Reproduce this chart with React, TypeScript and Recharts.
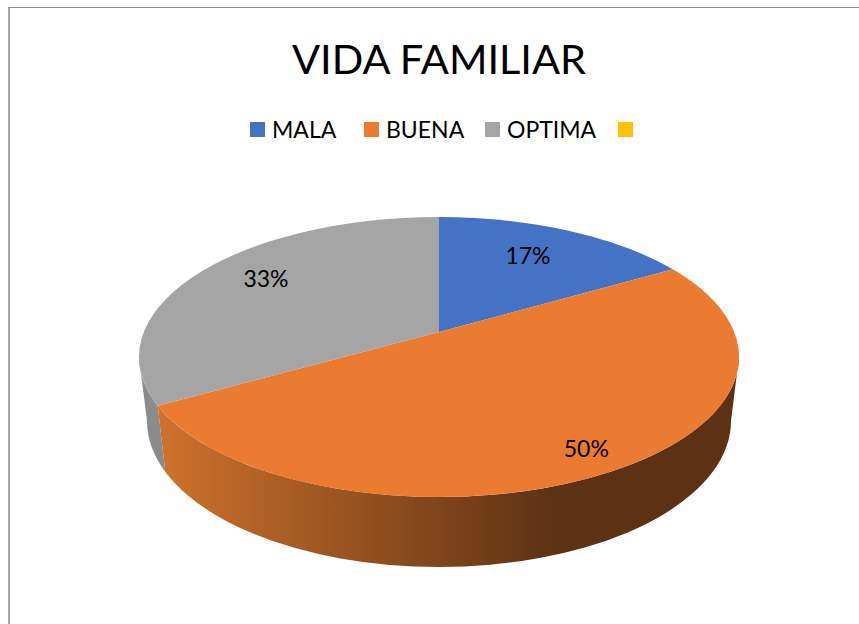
import { PieChart, Pie, Legend } from "recharts"

const categories = ["MALA", "BUENA", "OPTIMA", ""]
const values = [1, 3, 2, 0]
const colors = ["#4472c4", "#eb7b30", "#a5a5a5", "#ffc000"]

const data = categories.map((name, i) => ({ name, value: values[i], fill: colors[i] }))

const FONT = "Lato, sans-serif"
const legendLefts = [250, 364, 485, 618]
const labelReachX = [0.7, 0.84, 0.74, 0]
const labelReachY = [0.76, 0.84, 0.855, 0]

// the pie is tilted: the circle becomes an ellipse whose middle sits below the apex
const RY = 140 / 300
const DROP = 25 / 300
const LOWER_RX = 292 / 300
const LOWER_RY = 146 / 300
const LOWER_DROP = 89 / 300
const SQUEEZE = 0.83

// clockwise degrees from 12 o'clock, recharts angle in, ellipse angle out (radians)
const toEllipseAngle = (angle: number) => {
  const half = ((90 - angle) * Math.PI) / 360
  return 2 * Math.atan2(SQUEEZE * Math.sin(half), Math.cos(half))
}

const topPoint = (cx: number, cy: number, r: number, t: number) => ({
  x: cx + r * Math.sin(t),
  y: cy + r * DROP - r * RY * Math.cos(t),
})

const lowerPoint = (cx: number, cy: number, r: number, t: number) => ({
  x: cx + r * LOWER_RX * Math.sin(t),
  y: cy + r * LOWER_DROP - r * LOWER_RY * Math.cos(t),
})

function TiltedSlice(props: any) {
  const { cx, cy, outerRadius: r, startAngle, endAngle, fill, index } = props
  if (startAngle === endAngle) return null

  const t1 = toEllipseAngle(startAngle)
  const t2 = toEllipseAngle(endAngle)
  const a = topPoint(cx, cy, r, t1)
  const b = topPoint(cx, cy, r, t2)
  const large = t2 - t1 > Math.PI ? 1 : 0
  const face = `M${cx},${cy} L${a.x},${a.y} A${r},${r * RY} 0 ${large} 1 ${b.x},${b.y} Z`

  const wallFrom = Math.max(t1, Math.PI / 2)
  const wallTo = Math.min(t2, (3 * Math.PI) / 2)
  let wall = ""
  if (wallTo > wallFrom) {
    const p = topPoint(cx, cy, r, wallFrom)
    const q = topPoint(cx, cy, r, wallTo)
    const u = lowerPoint(cx, cy, r, wallTo)
    const v = lowerPoint(cx, cy, r, wallFrom)
    wall =
      `M${p.x},${p.y} A${r},${r * RY} 0 0 1 ${q.x},${q.y} L${u.x},${u.y} ` +
      `A${r * LOWER_RX},${r * LOWER_RY} 0 0 0 ${v.x},${v.y} Z`
  }

  return (
    <g>
      {wall && <path d={wall} fill={index === 1 ? "url(#orangeWall)" : "#8b8b8b"} />}
      <path d={face} fill={fill} />
    </g>
  )
}

function SliceLabel(props: any) {
  const { cx, cy, outerRadius: r, midAngle, percent, index } = props
  if (!percent) return null
  const t = toEllipseAngle(midAngle)
  const edge = topPoint(cx, cy, r, t)
  const x = cx + (edge.x - cx) * labelReachX[index]
  const y = cy + (edge.y - cy) * labelReachY[index]
  return (
    <text x={x} y={y} textAnchor="middle" dominantBaseline="central" fontFamily={FONT} fontSize={23} fill="#000">
      {`${Math.round(percent * 100)}%`}
    </text>
  )
}

function LegendRow() {
  return (
    <div style={{ position: "relative", height: 24, fontFamily: FONT, fontSize: 23, color: "#000" }}>
      {data.map((d, i) => (
        <div key={i} style={{ position: "absolute", left: legendLefts[i], top: 0, display: "flex", alignItems: "center", height: 24 }}>
          <span style={{ display: "inline-block", width: 15, height: 15, background: d.fill, marginRight: 7 }} />
          <span>{d.name}</span>
        </div>
      ))}
    </div>
  )
}

export default function App() {
  return (
    <div style={{ position: "absolute", left: 0, top: 0, width: 859, height: 624, background: "#fff", overflow: "hidden" }}>
      <div style={{ position: "absolute", left: 8, top: 7, width: 851, height: 617, borderLeft: "2px solid #a6a6a6", borderTop: "1px solid #8c8c8c", boxSizing: "border-box" }} />
      <div style={{ position: "absolute", left: 0, width: 878, top: 31, textAlign: "center", fontFamily: FONT, fontSize: 41.5, lineHeight: "54px", color: "#000" }}>
        VIDA FAMILIAR
      </div>
      <svg width={0} height={0} style={{ position: "absolute" }}>
        <defs>
          <linearGradient id="orangeWall" gradientUnits="userSpaceOnUse" x1={158} y1={0} x2={560} y2={0}>
            <stop offset="0%" stopColor="#cf722c" />
            <stop offset="100%" stopColor="#5c3114" />
          </linearGradient>
        </defs>
      </svg>
      <div style={{ position: "absolute", left: 0, top: 0 }}>
        <PieChart width={859} height={624} margin={{ top: 0, right: 0, bottom: 0, left: 0 }}>
          <Legend
            verticalAlign="top"
            content={() => <LegendRow />}
            wrapperStyle={{ top: 117, left: 0, width: 859 }}
          />
          <Pie
            data={data}
            dataKey="value"
            nameKey="name"
            cx={439}
            cy={308}
            outerRadius={300}
            startAngle={90}
            endAngle={-270}
            stroke="none"
            shape={TiltedSlice}
            label={SliceLabel}
            labelLine={false}
            isAnimationActive={false}
          />
        </PieChart>
      </div>
    </div>
  )
}
